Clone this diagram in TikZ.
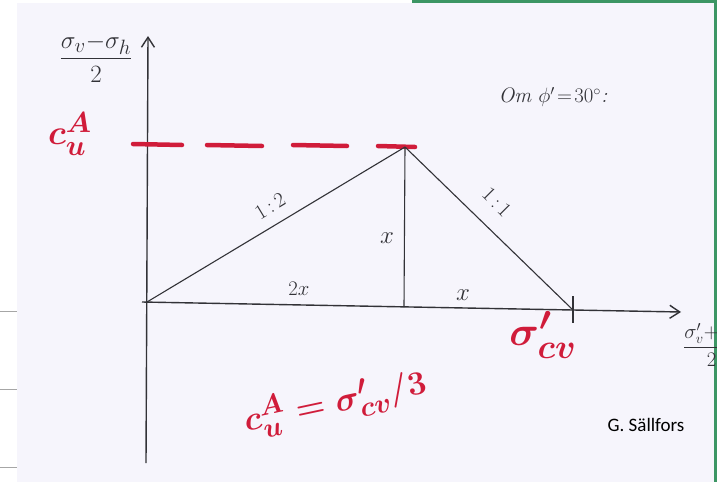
\documentclass[tikz,border=0pt]{standalone}
\usepackage{amsmath}
\usepackage{fontspec}
\usetikzlibrary{arrows.meta}
\newfontfamily\gsans{Carlito}
\definecolor{paper}{RGB}{246,245,252}
\definecolor{ink}{RGB}{50,50,55}
\definecolor{redink}{RGB}{208,28,58}
\definecolor{frame}{RGB}{60,150,100}
\tikzset{
  axisline/.style={draw=ink, line width=1.4pt},
  thinline/.style={draw=ink, line width=1.1pt},
  reddash/.style={draw=redink, line width=4.5pt, line cap=round},
  lbl/.style={text=ink, font=\fontsize{21}{24}\selectfont, inner sep=0pt},
  axtitle/.style={text=ink, font=\fontsize{24.88}{28}\selectfont, inner sep=0pt},
  redlbl/.style={text=redink, font=\fontsize{24.88}{28}\selectfont\bfseries\boldmath, inner sep=0pt},
}
\begin{document}
\begin{tikzpicture}[x=1pt,y=-1pt]
\useasboundingbox (0,0) rectangle (717,482);
\begin{scope}
\clip (0,0) rectangle (717,482);
% paper and surroundings
\fill[white] (0,0) rectangle (717,482);
\fill[paper] (17,3) rectangle (714,482);
\fill[frame] (412,0) rectangle (717,3);
\fill[frame] (714,0) rectangle (717,482);
\foreach \yy in {311,389,467} \draw[gray!70, line width=1pt] (0,\yy) -- (17,\yy);

% key points
\coordinate (O) at (147,302);
\coordinate (P) at (405,147);
\coordinate (F) at (404,307);
\coordinate (S) at (573,310);
\coordinate (ytop) at (148,36);
\coordinate (ybot) at (146,463);
\coordinate (xl) at (142,302);
\coordinate (xr) at (681,312);

% axes
\draw[axisline, -{Straight Barb[length=10pt,width=13pt,line width=1.4pt]}] (ybot) -- (ytop);
\draw[axisline, -{Straight Barb[length=10pt,width=13pt,line width=1.4pt]}] (xl) -- (xr);
\draw[axisline] (573,296) -- (573,323);

% red dashed line
\draw[reddash] (133,144) -- (182,145);
\draw[reddash] (207,145) -- (262,146);
\draw[reddash] (293,145) -- (347,146);
\draw[reddash] (378,146) -- (415,147);

% triangle
\draw[thinline] (O) -- (P);
\draw[thinline] (P) -- (S);
\draw[thinline] (P) -- (F);

% labels
\node[lbl, rotate=31] (l12) at (270,206) {1\,:\,2};
\node[lbl, rotate=-45] (l11) at (497,202) {1\,:\,1};
\node[lbl] (lx1) at (387,238) {\fontsize{24.88}{28}\selectfont $x$};
\node[lbl] (l2x) at (299,289) {\fontsize{22}{26}\selectfont $2x$};
\node[lbl] (lx2) at (463,295) {\fontsize{24}{28}\selectfont $x$};
\node[lbl] (om) at (553,97) {\fontsize{21}{24}\selectfont\itshape Om $\phi'\!=\!30^\circ$:};

% axis titles
\node[axtitle] (yt) at (96,58) {$\dfrac{\sigma_v{-}\sigma_h}{2}$};
\node[axtitle, font=\fontsize{20}{24}\selectfont, anchor=west] (xt) at (683,345) {$\dfrac{\sigma'_v{+}\sigma'_h}{2}$};

% red labels
\node[redlbl, scale=1.4] (cu) at (70,134) {$c_u^A$};
\node[redlbl, scale=1.65] (scv) at (543,335) {$\sigma'_{cv}$};
\node[redlbl, scale=1.35, rotate=12] (eq) at (335,402) {$c_u^A=\sigma'_{cv}/3$};

% credit
\node[text=black, font=\gsans\fontsize{19}{22}\selectfont, inner sep=0pt] (cred) at (646,425) {G. Sällfors};
\end{scope}
\end{tikzpicture}
\end{document}
